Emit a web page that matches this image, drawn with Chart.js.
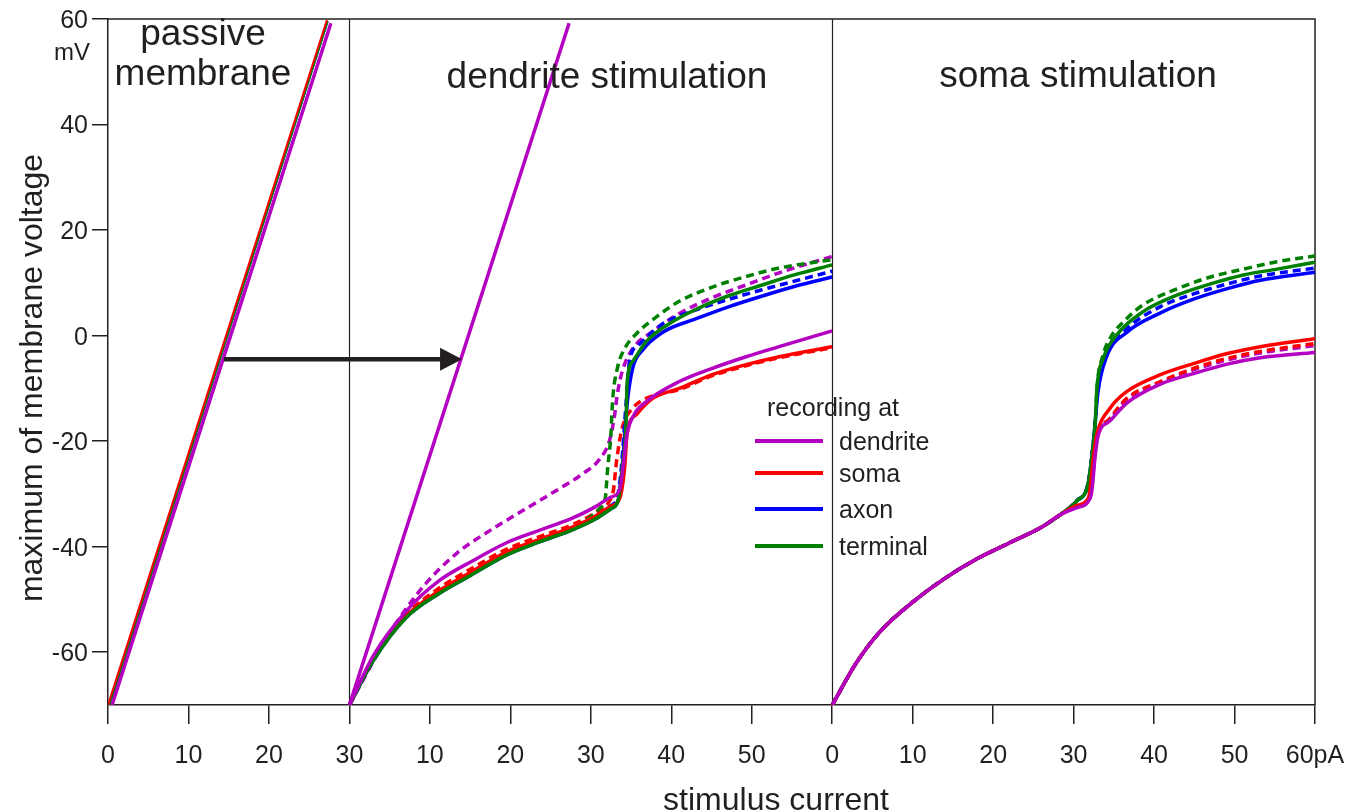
<!DOCTYPE html>
<html>
<head>
<meta charset="utf-8">
<title>membrane voltage vs stimulus current</title>
<script src="https://cdn.jsdelivr.net/npm/chart.js@4.4.1/dist/chart.umd.min.js"></script>
<style>
  html, body { margin: 0; padding: 0; background: #fff; }
  #wrap { width: 1368px; height: 812px; position: relative; }
</style>
</head>
<body>
<div id="wrap"><canvas id="chart" width="1368" height="812"></canvas></div>
<script>
// axis ticks (one continuous current axis, relabelled per panel)
const xTickValues = [0, 10, 20, 30, 40, 50, 60, 70, 80, 90, 100, 110, 120, 130, 140, 150];
const xTickLabels = ['0', '10', '20', '30', '10', '20', '30', '40', '50', '0', '10', '20', '30', '40', '50', '60pA'];
const yTicks = [-60, -40, -20, 0, 20, 40, 60];
const panelOffsets = [0, 30, 90];
const recordingSites = ['dendrite', 'soma', 'axon', 'terminal'];

// panel 1: passive membrane  [current pA, max voltage mV]
const passiveDendrite = [[0.5, -70], [27.7, 59.2]];
const passiveSoma = [[0, -70], [27.2, 59.8]];
const passiveAxon = [[0.2, -70], [27.3, 59.6]];
const passiveTerminal = [[0.2, -70], [27.3, 59.6]];

// panel 2: dendrite stimulation
const dendPassive = [[0, -70], [27.3, 59.2]];
const dendDendrite = [[0, -70], [3, -60.6], [7, -52.3], [11.2, -46.4], [15.4, -42.6], [19.6, -39.2], [23.6, -36.9], [27.7, -34.6], [30.5, -32.5], [32.5, -30.6], [33.6, -29.2], [34.0, -25], [34.5, -18.7], [35.4, -14.9], [36.9, -12.5], [41, -8.7], [45.1, -6.2], [49.3, -4.0], [53.4, -2.1], [60, 0.9]];
const dendDendriteDash = [[0, -70], [5, -56.4], [9.1, -47.7], [13.3, -41.3], [17.4, -37], [21.5, -33.2], [26.1, -29], [28.6, -26.6], [31.1, -23.4], [32.3, -20], [32.9, -15.7], [33.3, -11.1], [33.9, -6.8], [35.2, -2.5], [37.7, 0.8], [41, 4.2], [45.1, 7.2], [49.3, 9.6], [53.4, 11.9], [60, 15]];
const dendSoma = [[0, -70], [3, -61.2], [7, -53.2], [11, -48.5], [15, -44.9], [19.5, -41], [23.6, -38.6], [27.7, -36.3], [30.5, -34.3], [32.5, -32.3], [33.6, -30.8], [34.2, -25.1], [34.5, -18.7], [35.7, -14.9], [37.7, -11.9], [41, -10], [45.1, -7.4], [49.3, -5.5], [53.4, -4.0], [60, -2.1]];
const dendSomaDash = [[0, -70], [3, -61], [7, -53], [11, -48], [15, -44.3], [19.5, -40.5], [23.6, -38.1], [27.7, -35.8], [30.5, -33.6], [32.3, -31.4], [32.8, -29.4], [33.2, -23.8], [33.9, -17.5], [35.2, -13.8], [36.9, -11.9], [41, -10.2], [45.1, -7.6], [49.3, -5.7], [53.4, -4.2], [60, -2.3]];
const dendAxon = [[0, -70], [3, -61.5], [7, -53.5], [11, -49], [15, -45.5], [19.5, -41.6], [23.6, -39.1], [27.7, -36.8], [30.5, -34.8], [32.5, -32.8], [33.4, -31.2], [33.9, -25.1], [34.55, -12.5], [35.2, -6.2], [36.4, -2.8], [38.9, 0.6], [43.1, 3.2], [47.2, 5.5], [51.3, 7.5], [55.5, 9.4], [60, 11.1]];
const dendAxonDash = [[0, -70], [3, -61.3], [7, -53.3], [11, -48.8], [15, -45.2], [19.5, -41.3], [23.6, -38.9], [27.7, -36.6], [30.5, -34.5], [32.5, -32.2], [33.3, -30.6], [33.8, -25], [34.4, -12.5], [34.8, -4.9], [36, -1.7], [38.9, 2.2], [43.1, 4.9], [47.2, 6.9], [51.3, 8.7], [55.5, 10.4], [60, 12.2]];
const dendTerminal = [[0, -70], [3, -61.5], [7, -53.5], [11, -49], [15, -45.5], [19.5, -41.6], [23.6, -39.1], [27.7, -36.8], [30.5, -34.8], [32.5, -32.8], [33.4, -31.2], [33.9, -25.1], [34.4, -15.7], [34.5, -9.2], [35.2, -4.9], [36.9, -1.1], [39.8, 2.3], [43.1, 5.0], [47.2, 7.6], [51.3, 9.6], [55.5, 11.6], [60, 13.4]];
const dendTerminalDash = [[0, -70], [3, -61.3], [7, -53.3], [11, -48.8], [15, -45.2], [19.5, -41.3], [23.6, -38.9], [27.7, -36.5], [30.0, -34.3], [31.2, -32.6], [31.8, -30.8], [32.1, -25.1], [32.5, -18.7], [32.7, -12.5], [33.3, -6.2], [34.2, -2.5], [35.7, 0.4], [38.2, 3.6], [41, 6.5], [45.1, 9.2], [49.3, 11.2], [53.4, 12.8], [60, 14.4]];

// panel 3: soma stimulation (all sites share the slow rise)
const somaRise = [[0, -70], [3, -62], [6, -56], [10, -50.5], [14, -46], [18, -42.3], [22, -39.3], [26, -36.3], [28.3, -34]];
const somaDendrite = [...somaRise, [30.4, -32.6], [32.0, -31.0], [32.3, -29], [32.7, -22.5], [33.1, -18.7], [34.5, -16.2], [36.6, -12.8], [40.8, -9.2], [44.9, -7.2], [49.1, -5.4], [53.2, -4.2], [60, -3.2]];
const somaDendriteDash = [...somaRise, [30.4, -32.5], [32.0, -30.8], [32.3, -28], [32.7, -21.5], [33.1, -18.3], [34.5, -15.9], [36.6, -12.1], [40.8, -8.9], [44.9, -6.5], [49.1, -4.6], [53.2, -3.3], [60, -1.9]];
const somaSoma = [...somaRise, [30.4, -32.2], [31.9, -30.6], [32.2, -27], [32.5, -22.5], [32.9, -18.7], [34.5, -13.8], [36.6, -10.6], [40.8, -7.4], [44.9, -5.3], [49.1, -3.4], [53.2, -2.1], [60, -0.6]];
const somaSomaDash = [...somaRise, [30.4, -32.2], [31.9, -30.6], [32.2, -27], [32.5, -22.5], [32.9, -19], [34.5, -15.7], [36.6, -11.9], [40.8, -8.7], [44.9, -6.2], [49.1, -4.3], [53.2, -3.0], [60, -1.5]];
const somaAxon = [...somaRise, [30.4, -31.3], [31.8, -28.1], [32.3, -22.5], [32.7, -16.2], [33.0, -11], [34.1, -4.0], [36.6, 0.6], [40.8, 4.3], [44.9, 6.9], [49.1, 8.9], [53.2, 10.5], [60, 12.0]];
const somaAxonDash = [...somaRise, [30.4, -31.3], [31.8, -28.1], [32.3, -22.5], [32.7, -16.2], [33.0, -10.5], [34.5, -2.5], [36.6, 1.3], [40.8, 5.5], [44.9, 7.9], [49.1, 9.8], [53.2, 11.3], [60, 12.8]];
const somaTerminal = [...somaRise, [30.4, -31.3], [31.8, -28.1], [32.3, -22.5], [32.7, -16.2], [32.9, -10], [33.7, -4.3], [35.4, 0.2], [38.6, 4.5], [42.9, 7.7], [47, 9.8], [51.1, 11.5], [55.3, 12.6], [60, 13.9]];
const somaTerminalDash = [...somaRise, [30.4, -31.3], [31.8, -28.1], [32.3, -22.5], [32.7, -16.2], [32.9, -10], [33.6, -4], [34.5, -0.6], [36.6, 3.2], [38.6, 5.8], [42.9, 8.9], [47, 11.1], [51.1, 12.6], [55.3, 14.0], [60, 15.1]];

// arrow (passive curve shifted into dendrite panel), data coords
const arrowFrom = [14.4, -4.5];
const arrowTo = [44.0, -4.5];

const siteColors = { dendrite: '#b400c0', soma: '#ff0000', axon: '#0000ff', terminal: '#008000' };
const FONT = "'Liberation Sans', Arial, Helvetica, sans-serif";
const INK = '#231f20';

function line(points, panel, site, width, dashed, order) {
    return {
        data: points.map(p => ({ x: p[0] + panelOffsets[panel], y: p[1] })),
        borderColor: siteColors[site],
        borderWidth: width,
        borderDash: dashed ? [8, 5] : [],
        pointRadius: 0,
        fill: false,
        cubicInterpolationMode: 'monotone',
        order: order
    };
}

const datasets = [
    // passive membrane
    line(passiveAxon, 0, 'axon', 2, false, 9),
    line(passiveTerminal, 0, 'terminal', 2, false, 8),
    line(passiveSoma, 0, 'soma', 2, false, 7),
    line(passiveDendrite, 0, 'dendrite', 3.5, false, 6),
    // dendrite stimulation
    line(dendPassive, 1, 'dendrite', 3.5, false, 0),
    line(dendDendriteDash, 1, 'dendrite', 3.5, true, 7),
    line(dendSomaDash, 1, 'soma', 3.5, true, 6),
    line(dendAxonDash, 1, 'axon', 3.5, true, 5),
    line(dendTerminalDash, 1, 'terminal', 3.5, true, 4),
    line(dendAxon, 1, 'axon', 3.5, false, 3),
    line(dendSoma, 1, 'soma', 3.5, false, 2),
    line(dendTerminal, 1, 'terminal', 3.5, false, 1),
    line(dendDendrite, 1, 'dendrite', 3.5, false, 0),
    // soma stimulation
    line(somaDendriteDash, 2, 'dendrite', 3.5, true, 7),
    line(somaSomaDash, 2, 'soma', 3.5, true, 6),
    line(somaAxonDash, 2, 'axon', 3.5, true, 5),
    line(somaTerminalDash, 2, 'terminal', 3.5, true, 4),
    line(somaAxon, 2, 'axon', 3.5, false, 3),
    line(somaTerminal, 2, 'terminal', 3.5, false, 2),
    line(somaSoma, 2, 'soma', 3.5, false, 1),
    line(somaDendrite, 2, 'dendrite', 3.5, false, 0)
];

// frame, panel separators, arrow, titles and legend
const figureDecor = {
    id: 'figureDecor',
    beforeDatasetsDraw(chart) {
        const { ctx, chartArea: a, scales: { x } } = chart;
        ctx.save();
        ctx.strokeStyle = INK;
        ctx.lineWidth = 1.2;
        panelOffsets.slice(1).forEach(v => {
            const px = Math.round(x.getPixelForValue(v)) + 0.5;
            ctx.beginPath();
            ctx.moveTo(px, a.top);
            ctx.lineTo(px, a.bottom);
            ctx.stroke();
        });
        ctx.lineWidth = 1.5;
        ctx.beginPath();
        ctx.moveTo(a.left, a.top);
        ctx.lineTo(a.right, a.top);
        ctx.lineTo(a.right, a.bottom);
        ctx.stroke();
        ctx.restore();
    },
    afterDatasetsDraw(chart) {
        const { ctx, scales: { x, y } } = chart;
        const x0 = x.getPixelForValue(arrowFrom[0]);
        const x1 = x.getPixelForValue(arrowTo[0]);
        const py = y.getPixelForValue(arrowFrom[1]);
        ctx.save();
        ctx.strokeStyle = INK;
        ctx.fillStyle = INK;
        ctx.lineWidth = 4.5;
        ctx.beginPath();
        ctx.moveTo(x0, py);
        ctx.lineTo(x1 - 20, py);
        ctx.stroke();
        ctx.beginPath();
        ctx.moveTo(x1, py);
        ctx.lineTo(x1 - 22, py - 11.5);
        ctx.lineTo(x1 - 22, py + 11.5);
        ctx.closePath();
        ctx.fill();
        ctx.restore();
    },
    afterDraw(chart) {
        const { ctx } = chart;
        ctx.save();
        ctx.fillStyle = INK;
        ctx.textBaseline = 'alphabetic';

        // panel titles
        ctx.font = '37px ' + FONT;
        ctx.textAlign = 'center';
        ctx.fillText('passive', 203, 45);
        ctx.fillText('membrane', 203, 85);
        ctx.fillText('dendrite stimulation', 607, 88);
        ctx.fillText('soma stimulation', 1078, 87);

        // unit under the top tick
        ctx.font = '24px ' + FONT;
        ctx.textAlign = 'right';
        ctx.fillText('mV', 90, 60);

        // axis titles
        ctx.font = '32px ' + FONT;
        ctx.textAlign = 'center';
        ctx.fillText('stimulus current', 776, 810);
        ctx.save();
        ctx.translate(42, 378);
        ctx.rotate(-Math.PI / 2);
        ctx.fillText('maximum of membrane voltage', 0, 0);
        ctx.restore();

        // legend
        ctx.font = '25px ' + FONT;
        ctx.textAlign = 'left';
        ctx.fillText('recording at', 767, 416);
        const rows = [441, 473, 509, 546];
        recordingSites.forEach((site, i) => {
            ctx.strokeStyle = siteColors[site];
            ctx.lineWidth = 4;
            ctx.beginPath();
            ctx.moveTo(755, rows[i]);
            ctx.lineTo(823, rows[i]);
            ctx.stroke();
            ctx.fillText(site, 839, rows[i] + 8.5);
        });
        ctx.restore();
    }
};

new Chart(document.getElementById('chart'), {
    type: 'line',
    data: { datasets: datasets },
    options: {
        responsive: false,
        animation: false,
        devicePixelRatio: 1,
        layout: { padding: { left: 0, top: 16, right: 53, bottom: 0 } },
        plugins: {
            legend: { display: false },
            tooltip: { enabled: false }
        },
        scales: {
            x: {
                type: 'linear',
                min: 0,
                max: 150,
                afterBuildTicks: s => { s.ticks = xTickValues.map(v => ({ value: v })); },
                afterFit: s => { s.height = 107; },
                ticks: {
                    callback: (v, i) => xTickLabels[i],
                    font: { family: FONT, size: 25 },
                    color: INK,
                    padding: 17,
                    maxRotation: 0,
                    autoSkip: false
                },
                grid: { drawOnChartArea: false, drawTicks: true, tickLength: 19, color: INK, lineWidth: 1.5 },
                border: { display: true, color: INK, width: 1.5 }
            },
            y: {
                type: 'linear',
                min: -70,
                max: 60,
                afterBuildTicks: s => { s.ticks = yTicks.map(v => ({ value: v })); },
                afterFit: s => { s.width = 108; },
                ticks: {
                    callback: v => String(v),
                    font: { family: FONT, size: 25 },
                    color: INK,
                    padding: 4,
                    labelOffset: 2
                },
                grid: { drawOnChartArea: false, drawTicks: true, tickLength: 16, color: INK, lineWidth: 1.5 },
                border: { display: true, color: INK, width: 1.5 }
            }
        }
    },
    plugins: [figureDecor]
});
</script>
</body>
</html>
